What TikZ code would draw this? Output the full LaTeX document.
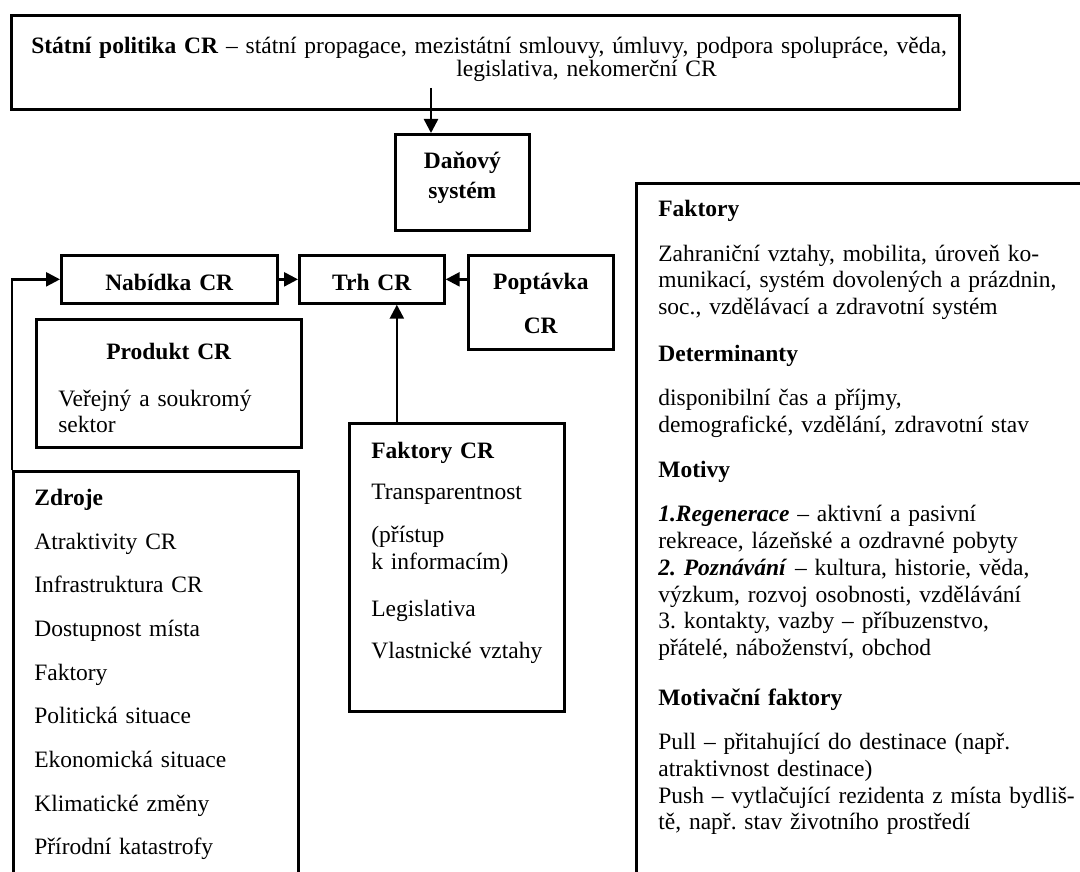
\documentclass[tikz,border=0pt]{standalone}
\usepackage{fontspec}
\setmainfont{Liberation Serif}
\usepackage{tikz}
\usetikzlibrary{arrows.meta}
\usetikzlibrary{positioning}
\tikzstyle{box} = [draw, line width=2.7pt, rectangle, anchor=north west,
        inner ysep=0pt, font={\fontsize{23.5}{26.7}\selectfont}]
\tikzstyle{link} = [draw, line width=2.5pt, -{Triangle[length=14pt,width=14pt]}]
\frenchspacing

\begin{document}
\begin{tikzpicture}[x=1pt, y=-1pt]
    \useasboundingbox (0,0) rectangle (1080,872);
    \clip (0,0) rectangle (1080,872);
    \node[box, align=left, inner xsep=20pt, text width=908pt, text height=38pt, text depth=56pt,
        font={\fontsize{23.5}{23.5}\selectfont}]
        (politika) at (10,14)
        {\mbox{\textbf{Státní politika CR} – státní propagace, mezistátní smlouvy, úmluvy, podpora spolupráce, věda,}\\
        \hspace*{425pt}legislativa, nekomerční CR};
    \node[box, align=center, inner xsep=0pt, text width=134pt, text height=34pt, text depth=62pt]
        (dan) at (394,133) {\textbf{Daňový}\\[3pt] \textbf{systém}};
    \node[box, align=center, inner xsep=0pt, text width=216pt, text height=35pt, text depth=13pt]
        (nabidka) at (60,254) {\textbf{Nabídka CR}};
    \node[box, align=center, inner xsep=0pt, text width=145pt, text height=35pt, text depth=13pt]
        (trh) at (298,254) {\textbf{Trh CR}};
    \node[box, align=center, inner xsep=0pt, text width=145pt, text height=34pt, text depth=60pt]
        (poptavka) at (467,254) {\textbf{Poptávka}\\[17pt] \textbf{CR}};
    \node[box, align=left, inner xsep=22pt, text width=221pt, text height=40pt, text depth=88pt]
        (produkt) at (35,318)
        {\makebox[\linewidth]{\textbf{Produkt CR}}\\[20pt]
        Veřejný a soukromý\\ sektor};
    \node[box, align=left, inner xsep=21pt, text width=243pt, text height=34pt, text depth=400pt]
        (zdroje) at (12,470)
        {\textbf{Zdroje}\\[17pt]
        Atraktivity CR\\[17pt]
        Infrastruktura CR\\[17pt]
        Dostupnost místa\\[17pt]
        Faktory\\[17pt]
        Politická situace\\[17pt]
        Ekonomická situace\\[17pt]
        Klimatické změny\\[17pt]
        Přírodní katastrofy};
    \node[box, align=left, inner xsep=22pt, text width=171pt, text height=35pt, text depth=253pt]
        (faktoryCR) at (348,422)
        {\textbf{Faktory CR}\\[14pt]
        Transparentnost\\[17pt]
        (přístup\\ k informacím)\\[20pt]
        Legislativa\\[16pt]
        Vlastnické vztahy};
    \node[box, align=left, inner xsep=22pt, text width=421pt, text height=33pt, text depth=700pt]
        (vlivy) at (635,182)
        {\textbf{Faktory}\\[18pt]
        Zahraniční vztahy, mobilita, úroveň ko-\\
        munikací, systém dovolených a prázdnin,\\
        soc., vzdělávací a zdravotní systém\\[20pt]
        \textbf{Determinanty}\\[18pt]
        disponibilní čas a příjmy,\\
        demografické, vzdělání, zdravotní stav\\[18pt]
        \textbf{Motivy}\\[18pt]
        \textbf{\textit{1.Regenerace}} – aktivní a pasivní\\
        rekreace, lázeňské a ozdravné pobyty\\
        \textbf{\textit{2. Poznávání}} – kultura, historie, věda,\\
        výzkum, rozvoj osobnosti, vzdělávání\\
        3. kontakty, vazby – příbuzenstvo,\\
        přátelé, náboženství, obchod\\[23pt]
        \textbf{Motivační faktory}\\[18pt]
        Pull – přitahující do destinace (např.\\
        atraktivnost destinace)\\
        Push – vytlačující rezidenta z místa bydliš-\\
        tě, např. stav životního prostředí};
    \coordinate (politikaOut) at (431,88);
    \draw[link] (politikaOut) -- (politikaOut |- dan.north);
    \draw[link] (zdroje.north west) |- (nabidka.west);
    \draw[link] (nabidka) -- (trh);
    \draw[link] (poptavka.west |- trh.east) -- (trh.east);
    \draw[link] ([xshift=25pt]trh.south |- faktoryCR.north) -- ([xshift=25pt]trh.south);
\end{tikzpicture}
\end{document}
